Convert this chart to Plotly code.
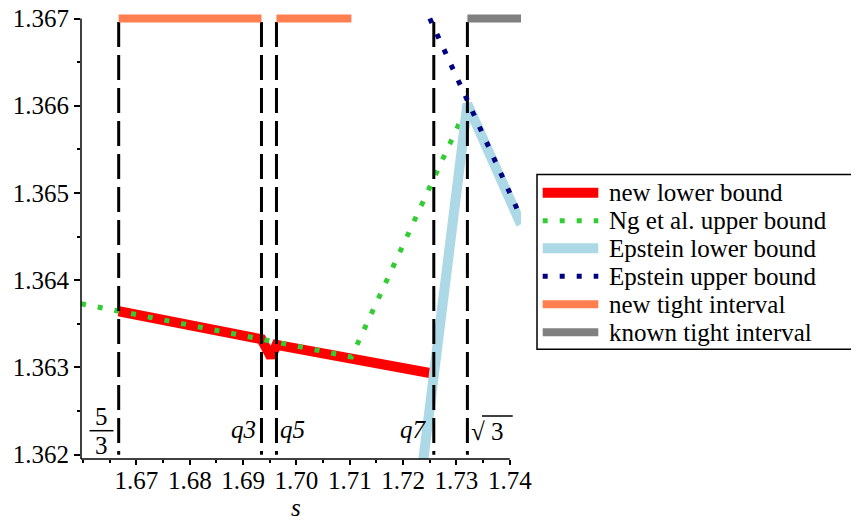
import math
import plotly.graph_objects as go

# ---------------- data ----------------
x_tick_vals = [1.67, 1.68, 1.69, 1.70, 1.71, 1.72, 1.73, 1.74]
x_tick_text = ["1.67", "1.68", "1.69", "1.70", "1.71", "1.72", "1.73", "1.74"]
y_tick_vals = [1.362, 1.363, 1.364, 1.365, 1.366, 1.367]
y_tick_text = ["1.362", "1.363", "1.364", "1.365", "1.366", "1.367"]

mark_names = ["5/3", "q3", "q5", "q7", "sqrt3"]
mark_x = [5 / 3, 1.69344, 1.69625, 1.72575, math.sqrt(3)]

new_lower_x = [5 / 3, 1.69344, 1.69523, 1.69625, 1.7250]
new_lower_y = [1.363644, 1.363323, 1.363117, 1.363258, 1.362936]

ng_upper_x = [1.6596, 1.7103, math.sqrt(3)]
ng_upper_y = [1.36373, 1.36312, 1.36600]

ep_lower_x = [1.7235, math.sqrt(3), 1.7421]
ep_lower_y = [1.3618, 1.36602, 1.36464]

ep_upper_x = [1.7250, 1.7421]
ep_upper_y = [1.3670, 1.36472]

new_tight_x = [5 / 3, 1.69344, None, 1.69625, 1.7103]
new_tight_y = [1.367, 1.367, None, 1.367, 1.367]

known_tight_x = [math.sqrt(3), 1.7421]
known_tight_y = [1.367, 1.367]

series_names = ["new lower bound", "Ng et al. upper bound", "Epstein lower bound",
                "Epstein upper bound", "new tight interval", "known tight interval"]
series_colors = ["#FF0000", "#32CD32", "#ADD8E6", "#000080", "#FF7F50", "#808080"]

# ---------------- layout constants ----------------
OFF = 8  # default page margin of the html body
W, H = 859 - OFF, 521 - OFF
ML, MT = 81 - OFF, 13 - OFF
PW, PH = 440, 446
MR, MB = W - ML - PW, H - MT - PH
X_RANGE = [1.6596, 1.7421]
Y_RANGE = [1.36195, 1.367063]
FONT = "Liberation Serif, Times New Roman, serif"
FS = 25


def px_x(px):
    # reference-image pixel column -> paper fraction
    return (px - OFF - ML) / PW


def px_y(py):
    # reference-image pixel row -> paper fraction
    return (H - MB - (py - OFF)) / PH


def yv(py):
    return Y_RANGE[0] + px_y(py) * (Y_RANGE[1] - Y_RANGE[0])


styles = [
    dict(width=10, dash="solid"),
    dict(width=5, dash="5px,12px"),
    dict(width=10, dash="solid"),
    dict(width=5, dash="5px,12px"),
    dict(width=8, dash="solid"),
    dict(width=8, dash="solid"),
]

fig = go.Figure()

# vertical dashed marker lines
vx, vy = [], []
for m in mark_x:
    vx += [m, m, None]
    vy += [1.36696, 1.362, None]


def add(x, y, i):
    fig.add_trace(go.Scatter(x=x, y=y, mode="lines", name=series_names[i],
                             line=dict(color=series_colors[i], **styles[i]),
                             showlegend=False, hoverinfo="skip"))


add(new_lower_x, new_lower_y, 0)
add(ng_upper_x, ng_upper_y, 1)
add(ep_lower_x, ep_lower_y, 2)
fig.add_trace(go.Scatter(x=vx, y=vy, mode="lines", showlegend=False, hoverinfo="skip",
                         line=dict(color="black", width=3, dash="25px,8px")))
add(ep_upper_x, ep_upper_y, 3)
add(new_tight_x, new_tight_y, 4)
add(known_tight_x, known_tight_y, 5)

shapes = []
# axis lines
shapes.append(dict(type="line", xref="x", yref="paper", x0=X_RANGE[0], x1=1.74, y0=0, y1=0,
                   line=dict(color="black", width=1.5)))
shapes.append(dict(type="line", xref="paper", yref="y", x0=0, x1=0, y0=Y_RANGE[0], y1=1.367,
                   line=dict(color="black", width=1.5)))

annotations = []
lab_font = dict(family=FONT, size=FS, color="black")
# 5/3 fraction
annotations.append(dict(x=px_x(101.5), y=px_y(416.7), xref="paper", yref="paper", text="5",
                        showarrow=False, font=lab_font, xanchor="center", yanchor="middle"))
annotations.append(dict(x=px_x(101.5), y=px_y(445), xref="paper", yref="paper", text="3",
                        showarrow=False, font=lab_font, xanchor="center", yanchor="middle"))
shapes.append(dict(type="line", xref="paper", yref="paper", x0=px_x(89.5), x1=px_x(113.5),
                   y0=px_y(430.7), y1=px_y(430.7), line=dict(color="black", width=1.5)))
# q labels
annotations.append(dict(x=mark_x[1], y=yv(429), xref="x", yref="y", text="<i>q3</i>",
                        showarrow=False, font=lab_font, xanchor="right", yanchor="middle", xshift=-3))
annotations.append(dict(x=mark_x[2], y=yv(429), xref="x", yref="y", text="<i>q5</i>",
                        showarrow=False, font=lab_font, xanchor="left", yanchor="middle", xshift=2))
annotations.append(dict(x=mark_x[3], y=yv(429), xref="x", yref="y", text="<i>q7</i>",
                        showarrow=False, font=lab_font, xanchor="right", yanchor="middle", xshift=-5))
# sqrt 3
annotations.append(dict(x=mark_x[4], y=yv(431), xref="x", yref="y", text="√ 3",
                        showarrow=False, font=lab_font, xanchor="left", yanchor="middle", xshift=2))
shapes.append(dict(type="line", xref="paper", yref="paper", x0=px_x(482), x1=px_x(512.7),
                   y0=px_y(416), y1=px_y(416), line=dict(color="black", width=1.5)))
# axis title
annotations.append(dict(x=px_x(296), y=px_y(507), xref="paper", yref="paper", text="<i>s</i>",
                        showarrow=False, font=lab_font, xanchor="center", yanchor="middle"))

# custom legend
shapes.append(dict(type="rect", xref="paper", yref="paper", x0=px_x(537), x1=px_x(857.5),
                   y0=px_y(349.3), y1=px_y(174.5), line=dict(color="black", width=1.5),
                   fillcolor="white", layer="below"))
row_y = [192.7, 220.7, 248.3, 276.3, 304.3, 332.3]
for i, name in enumerate(series_names):
    st = styles[i]
    shapes.append(dict(type="line", xref="paper", yref="paper", x0=px_x(542.7), x1=px_x(598.3),
                       y0=px_y(row_y[i]), y1=px_y(row_y[i]),
                       line=dict(color=series_colors[i], width=st["width"], dash=st["dash"])))
    annotations.append(dict(x=px_x(607), y=px_y(row_y[i]), xref="paper", yref="paper", text=name,
                            showarrow=False, font=lab_font, xanchor="left", yanchor="middle"))

fig.update_layout(
    width=W, height=H,
    margin=dict(l=ML, r=MR, t=MT, b=MB, pad=0, autoexpand=False),
    paper_bgcolor="white", plot_bgcolor="white",
    font=dict(family=FONT, size=FS, color="black"),
    showlegend=False,
    shapes=shapes, annotations=annotations,
    xaxis=dict(range=X_RANGE, showgrid=False, zeroline=False, showline=False, automargin=False,
               tickmode="array", tickvals=x_tick_vals, ticktext=x_tick_text,
               ticks="outside", ticklen=5, tickwidth=1.5, tickcolor="black",
               ticklabelstandoff=-6, ticklabeloverflow="allow",
               minor=dict(tick0=1.66, dtick=0.005, ticks="outside", ticklen=3, tickwidth=1.5,
                          tickcolor="black", showgrid=False)),
    yaxis=dict(range=Y_RANGE, showgrid=False, zeroline=False, showline=False, automargin=False,
               tickmode="array", tickvals=y_tick_vals, ticktext=y_tick_text,
               ticks="outside", ticklen=6, tickwidth=1.5, tickcolor="black",
               ticklabeloverflow="allow",
               minor=dict(tick0=1.362, dtick=0.0005, ticks="outside", ticklen=3, tickwidth=1.5,
                          tickcolor="black", showgrid=False)),
)

fig.write_html("out.html")
